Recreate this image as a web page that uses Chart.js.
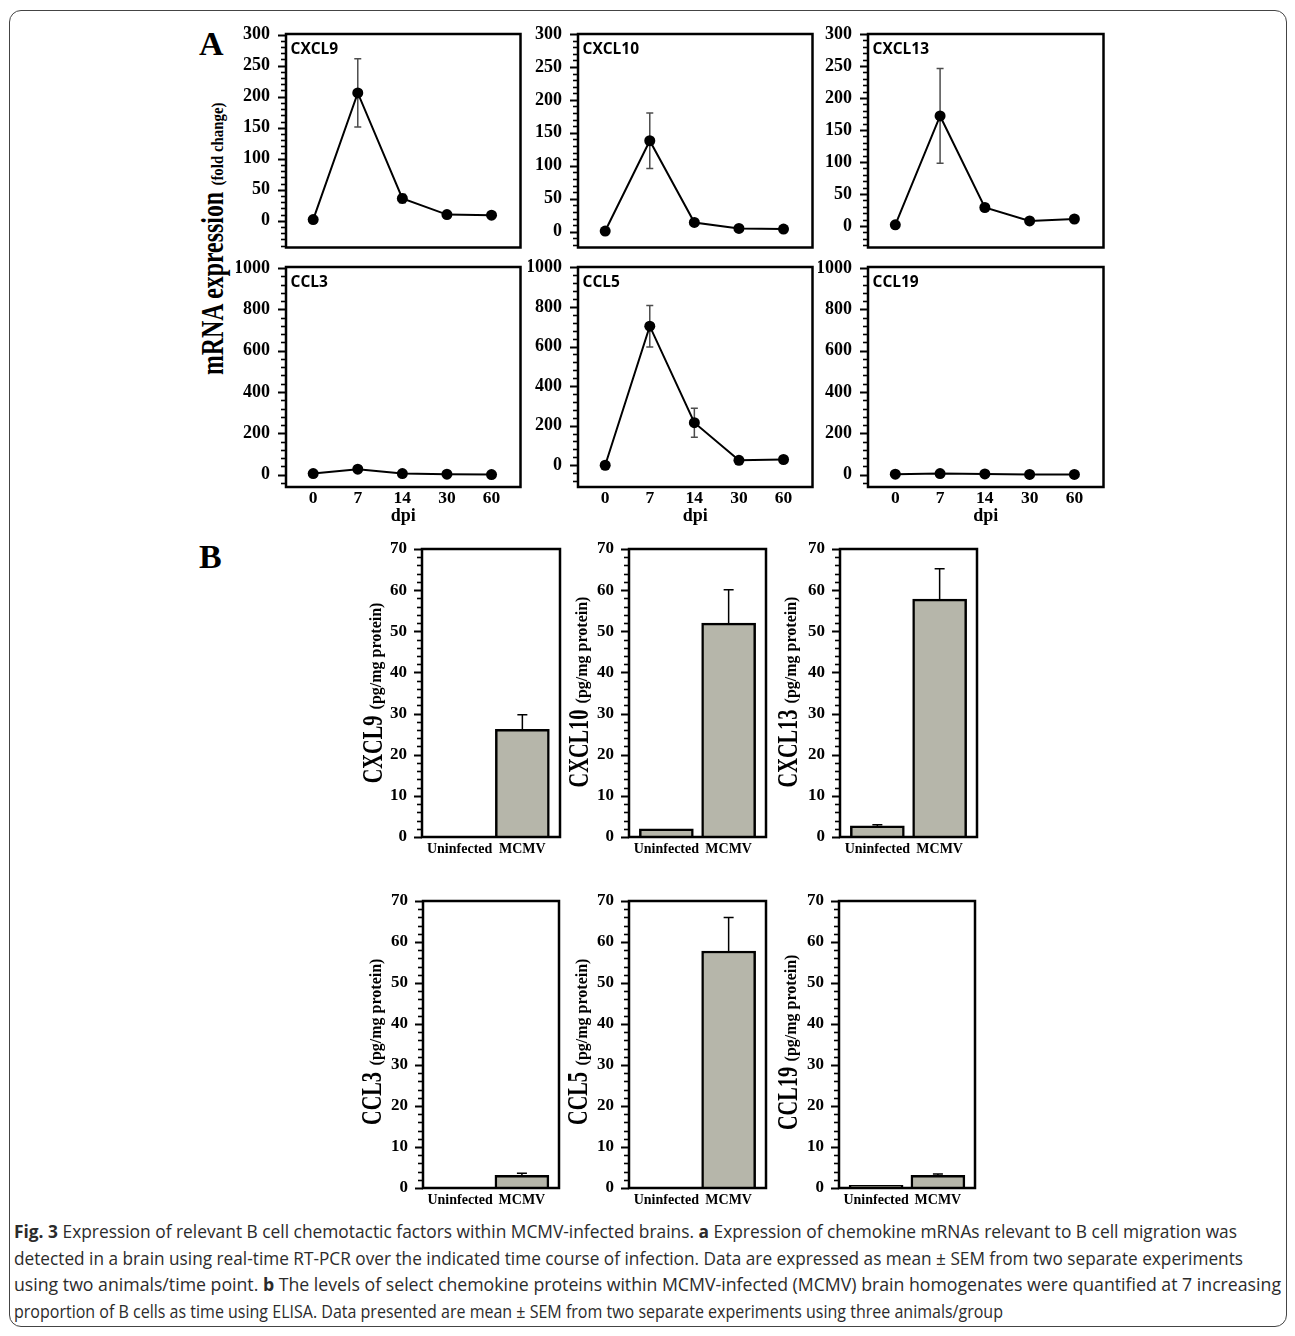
<!DOCTYPE html>
<html>
<head>
<meta charset="utf-8">
<title>Fig. 3</title>
<script src="https://cdn.jsdelivr.net/npm/chart.js@4.4.1/dist/chart.umd.min.js"></script>
<style>
  body { margin: 0; background: #fff; }
  #page { position: relative; width: 1295px; height: 1336px; overflow: hidden; font-family: "Liberation Serif", serif; color: #000; }
  .frame { position: absolute; left: 9px; top: 10px; width: 1278px; height: 1317px; border: 1.5px solid #444; border-radius: 12px; box-sizing: border-box; }
  .panel { position: absolute; }
  .letter { position: absolute; font: bold 34px/34px "Liberation Serif", serif; }
  .rot { position: absolute; white-space: nowrap; font-weight: bold; line-height: 1; }
  .cap { position: absolute; left: 14px; white-space: nowrap; font: 18.5px/26px "Open Sans", sans-serif; color: #2b2b2b; transform-origin: 0 50%; }
</style>
</head>
<body>
<div id="page">
  <div class="frame"></div>
  <div class="letter" style="left:199px; top:27px;">A</div>
  <div class="letter" style="left:199px; top:540px;">B</div>

  <div class="cap" data-w="1223" style="top:1218px;"><b>Fig. 3</b> Expression of relevant B cell chemotactic factors within MCMV-infected brains. <b>a</b> Expression of chemokine mRNAs relevant to B cell migration was</div>
  <div class="cap" data-w="1229" style="top:1245px;">detected in a brain using real-time RT-PCR over the indicated time course of infection. Data are expressed as mean ± SEM from two separate experiments</div>
  <div class="cap" data-w="1267" style="top:1271px;">using two animals/time point. <b>b</b> The levels of select chemokine proteins within MCMV-infected (MCMV) brain homogenates were quantified at 7 increasing</div>
  <div class="cap" data-w="989" style="top:1298px;">proportion of B cells as time using ELISA. Data presented are mean ± SEM from two separate experiments using three animals/group</div>
</div>

<script>
// panel A: mRNA fold change over days post infection
var dpiLabels = ['0', '7', '14', '30', '60'];
var cxcl9Mrna = [2, 206, 36, 10, 9];
var cxcl9MrnaErr = [1, 55, 7, 2, 2];
var cxcl10Mrna = [1, 138, 14, 5, 4];
var cxcl10MrnaErr = [1, 42, 3, 1, 1];
var cxcl13Mrna = [2, 172, 29, 8, 11];
var cxcl13MrnaErr = [1, 74, 3, 2, 2];
var ccl3Mrna = [5, 26, 5, 2, 0];
var ccl3MrnaErr = [2, 5, 2, 1, 1];
var ccl5Mrna = [0, 703, 215, 25, 29];
var ccl5MrnaErr = [3, 105, 73, 6, 6];
var ccl19Mrna = [2, 5, 3, 1, 1];
var ccl19MrnaErr = [1, 2, 1, 1, 1];
var mrnaTicks300 = [0, 50, 100, 150, 200, 250, 300];
var mrnaTicks1000 = [0, 200, 400, 600, 800, 1000];

// panel B: ELISA protein levels
var groups = ['Uninfected', 'MCMV'];
var cxcl9Prot = [0, 26.2];
var cxcl9ProtErr = [0, 3.5];
var cxcl10Prot = [2.0, 52.0];
var cxcl10ProtErr = [0, 8.1];
var cxcl13Prot = [2.7, 57.8];
var cxcl13ProtErr = [0.3, 7.4];
var ccl3Prot = [0, 3.1];
var ccl3ProtErr = [0, 0.5];
var ccl5Prot = [0, 57.8];
var ccl5ProtErr = [0, 8.2];
var ccl19Prot = [0.65, 3.1];
var ccl19ProtErr = [0, 0.3];
var protTicks = [0, 10, 20, 30, 40, 50, 60, 70];

Chart.defaults.font.family = '"Liberation Serif", serif';
Chart.defaults.font.weight = 'bold';
Chart.defaults.color = '#000';
Chart.defaults.animation = false;

// frame, tick comb, error bars and the little panel title
var panelPlugin = {
    id: 'panel',
    beforeDatasetsDraw: function(chart, args, o) {
        var ctx = chart.ctx, y = chart.scales.y;
        var meta = chart.getDatasetMeta(0);
        var vals = chart.data.datasets[0].data;
        ctx.save();
        ctx.strokeStyle = o.errColor;
        ctx.lineWidth = o.errWidth;
        meta.data.forEach(function(el, i) {
            var e = o.err[i];
            if (!e) return;
            var v = vals[i].y;
            var top = y.getPixelForValue(v + e);
            var bot = o.upperOnly ? y.getPixelForValue(v) : y.getPixelForValue(v - e);
            ctx.beginPath();
            ctx.moveTo(el.x, top); ctx.lineTo(el.x, bot);
            ctx.moveTo(el.x - o.cap, top); ctx.lineTo(el.x + o.cap, top);
            if (!o.upperOnly) { ctx.moveTo(el.x - o.cap, bot); ctx.lineTo(el.x + o.cap, bot); }
            ctx.stroke();
        });
        ctx.restore();
    },
    afterDraw: function(chart, args, o) {
        var ctx = chart.ctx, a = chart.chartArea, y = chart.scales.y;
        ctx.save();
        ctx.strokeStyle = '#000';
        var start = Math.ceil(y.min / o.minor) * o.minor;
        for (var v = start; v <= y.max + 1e-9; v += o.minor) {
            var isMajor = Math.abs(v % o.major) < 1e-9;
            var py = Math.round(y.getPixelForValue(v)) + 0.5;
            ctx.lineWidth = isMajor ? 2 : 1.6;
            ctx.beginPath();
            ctx.moveTo(a.left - (isMajor ? 8 : 5), py); ctx.lineTo(a.left, py);
            ctx.stroke();
        }
        ctx.lineWidth = 2.5;
        ctx.strokeRect(a.left, a.top, a.right - a.left, a.bottom - a.top);
        if (o.title) {
            ctx.fillStyle = '#000';
            ctx.font = 'bold 15.5px "Open Sans", sans-serif';
            ctx.textBaseline = 'alphabetic';
            ctx.fillText(o.title, a.left + 4.5, a.top + 20);
        }
        ctx.restore();
    }
};

var page = document.getElementById('page');

function addPanel(p) {
    var pt = 12, pr = 4;
    var w = p.box.r - p.box.l, h = p.box.b - p.box.t;
    var div = document.createElement('div');
    div.className = 'panel';
    div.style.left = (p.box.l - p.yAxisW) + 'px';
    div.style.top = (p.box.t - pt) + 'px';
    div.style.width = (w + p.yAxisW + pr) + 'px';
    div.style.height = (h + pt + p.xAxisH) + 'px';
    var canvas = document.createElement('canvas');
    div.appendChild(canvas);
    page.appendChild(div);

    // fixed axis sizes so the plot box lands where it is in the figure
    p.x.afterFit = function(s) { s.height = p.xAxisH; s.paddingLeft = 0; s.paddingRight = 0; };
    p.y.afterFit = function(s) { s.width = p.yAxisW; s.paddingTop = 0; s.paddingBottom = 0; };

    return new Chart(canvas, {
        type: p.type,
        data: { datasets: [p.dataset] },
        options: {
            responsive: true,
            maintainAspectRatio: false,
            events: [],
            layout: { padding: { top: pt, right: pr, left: 0, bottom: 0 } },
            plugins: { legend: { display: false }, tooltip: { enabled: false }, panel: p.panel },
            scales: { x: p.x, y: p.y }
        },
        plugins: [panelPlugin]
    });
}

function yAxis(min, max, ticks, size, pad) {
    return {
        type: 'linear', min: min, max: max,
        afterBuildTicks: function(s) { s.ticks = ticks.map(function(v) { return { value: v }; }); },
        grid: { display: false, drawTicks: false },
        border: { display: false },
        ticks: { autoSkip: false, padding: pad, font: { size: size }, callback: function(v) { return String(v); } }
    };
}

function linePanel(box, title, values, errs, min, max, ticks, minor, major, showX) {
    return addPanel({
        box: box, yAxisW: 50, xAxisH: showX ? 40 : 4, type: 'line',
        dataset: {
            data: values.map(function(v, i) { return { x: i, y: v }; }),
            borderColor: '#000', borderWidth: 2, tension: 0, fill: false,
            pointRadius: 5.5, pointBackgroundColor: '#000', pointBorderWidth: 0
        },
        x: {
            type: 'linear', min: -0.61, max: 4.65,
            grid: { display: false, drawTicks: false }, border: { display: false },
            afterBuildTicks: function(s) { s.ticks = dpiLabels.map(function(_, i) { return { value: i }; }); },
            ticks: { display: showX, autoSkip: false, maxRotation: 0, padding: 1, font: { size: 17.5 },
                     callback: function(v) { return dpiLabels[v]; } },
            title: { display: showX, text: 'dpi', padding: 0, font: { size: 18 } }
        },
        y: yAxis(min, max, ticks, 18, 16),
        panel: { title: title, err: errs, minor: minor, major: major, upperOnly: false, errColor: '#4d4d4d', errWidth: 1.5, cap: 3.5 }
    });
}

function barPanel(box, values, errs) {
    return addPanel({
        box: box, yAxisW: 40, xAxisH: 28, type: 'bar',
        dataset: {
            data: values.map(function(v, i) { return { x: i, y: v }; }),
            backgroundColor: '#b6b6aa', borderColor: '#000', borderWidth: 2.5,
            borderSkipped: 'bottom', barThickness: 54
        },
        x: {
            type: 'linear', min: -0.6, max: 1.6, offset: false,
            grid: { display: false, drawTicks: false }, border: { display: false },
            afterBuildTicks: function(s) { s.ticks = groups.map(function(_, i) { return { value: i }; }); },
            ticks: { autoSkip: false, maxRotation: 0, padding: 4, font: { size: 14 },
                     callback: function(v) { return groups[v]; } }
        },
        y: yAxis(0, 70, protTicks, 17, 15),
        panel: { title: '', err: errs, minor: 2, major: 10, upperOnly: true, errColor: '#000', errWidth: 1.5, cap: 5 }
    });
}

linePanel({ l: 286, t: 34, r: 522, b: 249 }, 'CXCL9', cxcl9Mrna, cxcl9MrnaErr, -43, 301, mrnaTicks300, 10, 50, false);
linePanel({ l: 578, t: 34, r: 814, b: 249 }, 'CXCL10', cxcl10Mrna, cxcl10MrnaErr, -24, 300, mrnaTicks300, 10, 50, false);
linePanel({ l: 868, t: 34, r: 1105, b: 249 }, 'CXCL13', cxcl13Mrna, cxcl13MrnaErr, -33.5, 300, mrnaTicks300, 10, 50, false);
linePanel({ l: 286, t: 267, r: 522, b: 487 }, 'CCL3', ccl3Mrna, ccl3MrnaErr, -60, 1005, mrnaTicks1000, 40, 200, true);
linePanel({ l: 578, t: 267, r: 814, b: 487 }, 'CCL5', ccl5Mrna, ccl5MrnaErr, -110, 1002, mrnaTicks1000, 40, 200, true);
linePanel({ l: 868, t: 267, r: 1105, b: 487 }, 'CCL19', ccl19Mrna, ccl19MrnaErr, -60, 1005, mrnaTicks1000, 40, 200, true);

barPanel({ l: 422, t: 549, r: 560, b: 837 }, cxcl9Prot, cxcl9ProtErr);
barPanel({ l: 629, t: 549, r: 766, b: 837 }, cxcl10Prot, cxcl10ProtErr);
barPanel({ l: 840, t: 549, r: 977, b: 837 }, cxcl13Prot, cxcl13ProtErr);
barPanel({ l: 423, t: 901, r: 559, b: 1188 }, ccl3Prot, ccl3ProtErr);
barPanel({ l: 629, t: 901, r: 766, b: 1188 }, ccl5Prot, ccl5ProtErr);
barPanel({ l: 839, t: 901, r: 975, b: 1188 }, ccl19Prot, ccl19ProtErr);

// rotated axis titles: a big name and a smaller unit, read bottom to top,
// squeezed along the text the way the figure was squeezed
function rotPiece(text, size, squeeze, baseX, startY) {
    var d = document.createElement('div');
    d.className = 'rot';
    d.style.fontSize = size + 'px';
    d.textContent = text;
    page.appendChild(d);
    var len = d.offsetWidth * squeeze;
    var cx = baseX - 0.3375 * size;
    var cy = startY - len / 2;
    d.style.left = (cx - d.offsetWidth / 2) + 'px';
    d.style.top = (cy - d.offsetHeight / 2) + 'px';
    d.style.transform = 'rotate(-90deg) scaleX(' + squeeze + ')';
    return len;
}
function rotLabel(big, small, baseX, startY, bigSize, bigSq, smallSize, smallSq) {
    var len = rotPiece(big, bigSize, bigSq, baseX, startY);
    rotPiece(small, smallSize, smallSq, baseX, startY - len - 6);
}
document.fonts.ready.then(function() {
    rotLabel('mRNA expression', '(fold change)', 223, 375, 31, 0.77, 16, 0.93);
    rotLabel('CXCL9', '(pg/mg protein)', 382, 783, 29, 0.7, 16, 1);
    rotLabel('CXCL10', '(pg/mg protein)', 588, 787, 29, 0.7, 16, 1);
    rotLabel('CXCL13', '(pg/mg protein)', 797, 787, 29, 0.7, 16, 1);
    rotLabel('CCL3', '(pg/mg protein)', 382, 1125, 29, 0.7, 16, 1);
    rotLabel('CCL5', '(pg/mg protein)', 588, 1125, 29, 0.7, 16, 1);
    rotLabel('CCL19', '(pg/mg protein)', 797, 1130, 29, 0.7, 16, 1);

    // squeeze caption lines to the widths they have in the figure
    document.querySelectorAll('.cap').forEach(function(el) {
        var w = el.getBoundingClientRect().width;
        el.style.transform = 'scaleX(' + (el.dataset.w / w) + ')';
    });
});
</script>
</body>
</html>
